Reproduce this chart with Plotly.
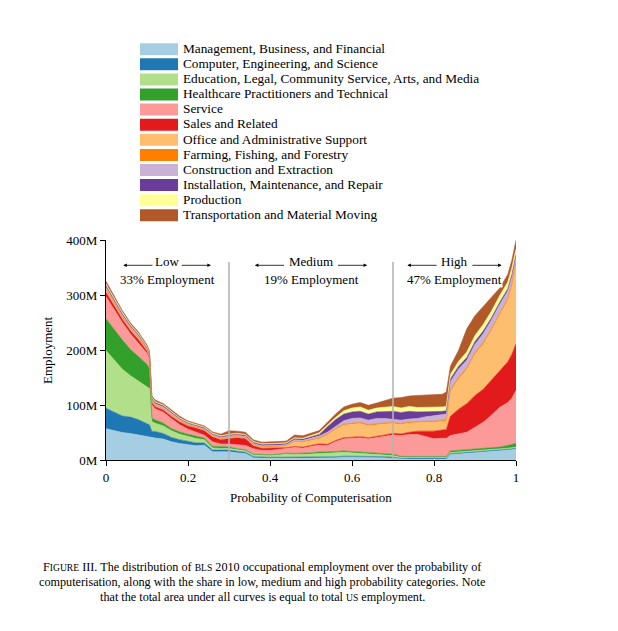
import plotly.graph_objects as go

# ---------------- data (employment density, millions, per probability) ----------------
prob = [0, 0.02, 0.04, 0.06, 0.08, 0.10, 0.106, 0.112, 0.12, 0.14, 0.16, 0.18, 0.20, 0.22,
        0.24, 0.26, 0.28, 0.30, 0.32, 0.34, 0.36, 0.38, 0.40, 0.42, 0.44, 0.46, 0.48, 0.50,
        0.52, 0.54, 0.56, 0.58, 0.60, 0.62, 0.64, 0.66, 0.68, 0.70, 0.72, 0.74, 0.76, 0.78,
        0.80, 0.82, 0.83, 0.84, 0.86, 0.88, 0.90, 0.92, 0.94, 0.96, 0.98, 0.99, 1.00]

mgmt = [57, 53, 50, 48, 45, 42, 42, 40, 40, 38, 33, 30, 28, 26, 27, 15, 15, 15, 13, 12,
        4, 3, 3, 3, 3, 3, 3, 4, 4, 4, 4, 5, 5, 4, 4, 4, 4, 3,
        2, 2, 2, 2, 2, 2, 2, 10, 11, 12, 13, 14, 15, 16, 18, 19, 20]
comp = [37, 34, 30, 30, 28, 24, 22, 12, 12, 10, 8, 7, 6, 5, 4, 3, 3, 3, 3, 2,
        2, 2, 2, 2, 2, 2, 2, 2, 2, 2, 2, 2, 2, 2, 2, 2, 2, 2,
        1.5, 1.5, 1.5, 1.5, 1.5, 1.5, 1.5, 1.5, 1.5, 1.5, 1.5, 1.5, 1.5, 1.5, 1.5, 1.5, 1.5]
edu = [105, 95, 85, 75, 70, 68, 66, 18, 15, 14, 12, 10, 9, 8, 6, 4, 3, 3, 3, 3,
       3, 3, 3, 4, 6, 5, 5, 5, 6, 6, 7, 7, 6, 6, 5, 5, 4, 3,
       1.5, 1.5, 1.5, 1.5, 1.5, 1.5, 1.5, 2, 2, 2, 2, 2, 2, 2, 2, 2, 2]
health = [58, 55, 53, 48, 45, 40, 36, 6, 6, 5, 4, 4, 4, 4, 3, 3, 3, 3, 1.5, 1.5,
          1.5, 1.5, 1.5, 1.5, 1.5, 2, 2, 2, 2.5, 2.5, 2.5, 2.5, 2.5, 2.5, 2.5, 2.5, 2.5, 2.5,
          1.5, 1.5, 1.5, 1.5, 1.5, 1.5, 1.5, 3, 3, 3, 3, 3, 3, 4, 5, 6, 7]
service = [40, 36, 32, 28, 24, 20, 18, 24, 20, 20, 18, 13, 9, 8, 5, 8, 5, 5, 7, 8,
           10, 8, 8, 9, 8, 11, 10, 12, 13, 12, 18, 22, 24, 26, 25, 27, 30, 35,
           38, 40, 40, 36, 32, 33, 33, 28, 30, 32, 40, 48, 60, 72, 78, 84, 96]
sales = [8, 7, 6, 6, 6, 4, 3, 4, 4, 4, 4, 5, 6, 7, 8, 9, 8, 10, 13, 12,
         5, 4, 4, 3, 2, 1.5, 1.5, 1.5, 2, 2, 2, 2, 2, 2, 2, 2, 3, 3,
         3, 4, 6, 10, 14, 15, 16, 35, 45, 52, 58, 60, 64, 68, 74, 80, 85]
office = [5, 4, 3, 3, 3, 2, 2, 2, 2, 2, 2, 2, 1.5, 1.5, 1.5, 1.5, 1.5, 2, 2, 2,
          2, 2, 2, 2, 3, 9, 9, 9, 9, 17, 20, 23, 24, 24, 22, 22, 20, 18,
          17, 17, 16, 16, 16, 16, 16, 45, 55, 62, 75, 82, 90, 100, 112, 125, 146]
farm = [1, 1, 1, 1, 1, 1, 1, 0.5, 0.5, 0.5, 0.5, 0.5, 0.5, 0.5, 0.5, 0.5, 0.5, 0.5, 0.5, 0.5,
        0.5, 0.5, 0.5, 0.5, 0.5, 1, 1, 1, 2, 2, 2, 2, 2, 2, 2, 2, 2, 2,
        2, 2, 2, 2, 2, 2, 2, 3, 3, 3, 3, 3, 3, 3, 3, 3, 3]
constr = [3, 3, 3, 3, 3, 2, 2, 3, 3, 3, 3, 2, 2, 2, 2, 2, 2, 2, 2, 2,
          2, 2, 2, 2, 2, 2.5, 2.5, 3, 3, 3, 4, 6, 8, 8, 8, 9, 8, 6,
          6, 5, 5, 8, 10, 10, 10, 15, 15, 14, 15, 16, 16, 16, 14, 13, 10]
install = [3, 3, 3, 2, 2, 1.5, 1.5, 2, 2, 2, 2, 1.5, 1.5, 1.5, 1.5, 1.5, 1.5, 2, 2, 2,
           2, 2, 2, 2, 2, 2, 2, 3, 3, 10, 12, 12, 12, 12, 11, 12, 13, 14,
           14, 14, 12, 9, 7, 6, 6, 5, 5, 5, 5, 5, 4, 4, 4, 4, 3]
prod = [3, 2.5, 2.5, 2, 2, 2, 2, 1.5, 1.5, 1.5, 1.5, 1.5, 1.5, 1.5, 1.5, 1.5, 1.5, 1.5, 1.5, 1.5,
        1.5, 1.5, 1.5, 1.5, 1.5, 1.5, 1.5, 2, 3, 3, 4, 6, 7, 8, 7, 7, 8, 9,
        8, 9, 8, 8, 8, 8, 8, 8, 9, 10, 11, 12, 12, 12, 12, 12, 10]
trans = [5, 4, 3, 3, 3, 2.5, 2.5, 3, 3, 2.5, 2.5, 3, 2, 2, 2, 2, 3, 6, 4, 4,
         3, 3, 3, 3, 3, 5, 4.5, 4, 4, 5, 6, 7, 7, 8, 9, 9, 11, 15,
         19, 19, 22, 23, 24, 23, 26, 15, 20, 42, 36, 32, 24, 14, 14, 14, 16]

categories = ["Management, Business, and Financial",
              "Computer, Engineering, and Science",
              "Education, Legal, Community Service, Arts, and Media",
              "Healthcare Practitioners and Technical",
              "Service",
              "Sales and Related",
              "Office and Administrative Support",
              "Farming, Fishing, and Forestry",
              "Construction and Extraction",
              "Installation, Maintenance, and Repair",
              "Production",
              "Transportation and Material Moving"]
series = [mgmt, comp, edu, health, service, sales, office, farm, constr, install, prod, trans]
colors = ["#a6cee3", "#1f78b4", "#b2df8a", "#33a02c", "#fb9a99", "#e31a1c",
          "#fdbf6f", "#ff7f00", "#cab2d6", "#6a3d9a", "#ffff99", "#b15928"]

y_ticks = [0, 100, 200, 300, 400]
y_ticklabels = ["0M", "100M", "200M", "300M", "400M"]
x_ticks = [0, 0.2, 0.4, 0.6, 0.8, 1]
x_ticklabels = ["0", "0.2", "0.4", "0.6", "0.8", "1"]

regions = [("Low", "33% Employment", 0.149),
           ("Medium", "19% Employment", 0.5),
           ("High", "47% Employment", 0.85)]
boundaries = [0.3, 0.7]

FONT = "Liberation Serif, Times New Roman, serif"
W, H = 618, 631
L, R, T, B = 106, 102, 240, 171
PW, PH = W - L - R, H - T - B

def px_x(px):
    return (px - L) / PW

def px_y(py):
    return (H - B - py) / PH

fig = go.Figure()
for name, vals, col in zip(categories, series, colors):
    fig.add_trace(go.Scatter(x=prob, y=vals, name=name, mode="lines",
                             stackgroup="one", line=dict(width=0.6, color=col),
                             fillcolor=col, hoverinfo="skip", showlegend=False))

shapes = []
annotations = []

# region boundary lines
for b in boundaries:
    shapes.append(dict(type="line", xref="x", yref="y", x0=b, x1=b, y0=0, y1=360,
                       line=dict(color="#b5b5b5", width=1.6), layer="above"))

# region labels with arrows
for label, share, cx in regions:
    half = {"Low": 0.032, "Medium": 0.062, "High": 0.04}[label]
    annotations.append(dict(x=cx, y=px_y(270.5), xref="x", yref="paper", text=share,
                            showarrow=False, bgcolor="white", borderpad=0,
                            font=dict(family=FONT, size=13, color="black"),
                            yanchor="top"))
    annotations.append(dict(x=cx, y=px_y(270.5), xref="x", yref="paper", text=label,
                            showarrow=False,
                            font=dict(family=FONT, size=13, color="black"),
                            yanchor="bottom"))
    for sgn in (-1, 1):
        annotations.append(dict(x=cx + sgn * (half + 0.075), y=354,
                                ax=cx + sgn * half, ay=354,
                                xref="x", yref="y", axref="x", ayref="y",
                                text="", showarrow=True, arrowhead=2, arrowsize=0.9,
                                arrowwidth=0.8, arrowcolor="black"))

# legend (custom swatches)
for i, (name, col) in enumerate(zip(categories, colors)):
    cy = 49.2 + 15.1 * i
    shapes.append(dict(type="rect", xref="paper", yref="paper",
                       x0=px_x(140), x1=px_x(178), y0=px_y(cy + 6), y1=px_y(cy - 6),
                       fillcolor=col, line=dict(width=0)))
    annotations.append(dict(x=px_x(181), y=px_y(cy - 0.8), xref="paper", yref="paper",
                            text=name, showarrow=False, xanchor="left", yanchor="middle",
                            font=dict(family=FONT, size=13.3, color="black")))

# axis titles
annotations.append(dict(x=0.5, y=px_y(497), xref="paper", yref="paper",
                        text="Probability of Computerisation", showarrow=False,
                        xanchor="center", yanchor="middle",
                        font=dict(family=FONT, size=13, color="black")))
annotations.append(dict(x=px_x(47), y=px_y(350), xref="paper", yref="paper",
                        text="Employment", showarrow=False, textangle=-90,
                        xanchor="center", yanchor="middle",
                        font=dict(family=FONT, size=13, color="black")))

# caption
sc = '<span style="font-size:9.6px">'
caption = [
    "F" + sc + "IGURE</span> III. The distribution of " + sc + "BLS</span> 2010 occupational employment over the probability of",
    "computerisation, along with the share in low, medium and high probability categories. Note",
    "that the total area under all curves is equal to total " + sc + "US</span> employment.",
]
for i, line in enumerate(caption):
    annotations.append(dict(x=px_x(262), y=px_y(567 + 15 * i), xref="paper", yref="paper",
                            text=line, showarrow=False, xanchor="center", yanchor="middle",
                            font=dict(family=FONT, size=12.2, color="black")))

fig.update_layout(
    width=W, height=H,
    margin=dict(l=L, r=R, t=T, b=B, pad=0),
    paper_bgcolor="white", plot_bgcolor="white",
    showlegend=False,
    shapes=shapes, annotations=annotations,
    xaxis=dict(range=[0, 1], tickvals=x_ticks, ticktext=x_ticklabels,
               showgrid=False, zeroline=False, showline=True, linecolor="black",
               linewidth=1, ticks="outside", ticklen=5, tickcolor="black",
               tickfont=dict(family=FONT, size=13, color="black")),
    yaxis=dict(range=[0, 400], tickvals=y_ticks, ticktext=y_ticklabels,
               showgrid=False, zeroline=False, showline=True, linecolor="black",
               linewidth=1, ticks="outside", ticklen=5, tickcolor="black",
               tickfont=dict(family=FONT, size=13, color="black")),
)

fig.write_html("out.html")
